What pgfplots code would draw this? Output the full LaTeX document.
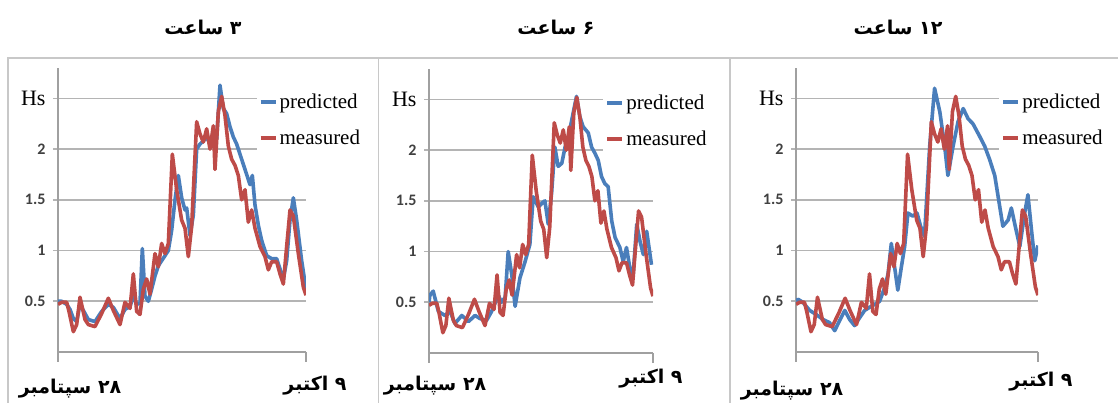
\documentclass[border=0pt]{standalone}
\usepackage{pgfplots}
\usepackage{pgfplotstable}
\pgfplotsset{compat=1.18}
\usepackage{fontspec}
\setmainfont{Liberation Serif}
\newfontfamily\numfont{Carlito}
\newfontfamily\fafont[Script=Arabic]{DejaVu Sans}
\TeXXeTstate=1
\definecolor{pblue}{HTML}{4A7EBB}
\definecolor{mred}{HTML}{BE4B48}
\definecolor{gridgray}{HTML}{B4B4B4}
\definecolor{axgray}{HTML}{A0A0A0}
\definecolor{framegray}{HTML}{C8C8C8}
\definecolor{lblgray}{HTML}{404040}

\pgfplotstableread{
x y
9 0.47
20 0.49
35 0.49
42 0.40
55 0.20
65 0.27
75 0.54
90 0.32
100 0.27
120 0.25
140 0.38
160 0.53
175 0.41
195 0.27
210 0.49
225 0.43
235 0.77
245 0.40
255 0.37
265 0.62
275 0.72
285 0.57
300 0.97
310 0.84
320 1.07
330 0.97
340 1.07
352 1.95
365 1.60
380 1.30
390 1.22
400 0.94
410 1.24
425 2.27
435 2.15
445 2.07
455 2.20
465 2.00
475 2.23
480 1.80
490 2.37
500 2.52
510 2.33
520 2.03
530 1.90
540 1.84
550 1.74
560 1.50
570 1.60
580 1.28
590 1.40
600 1.22
615 1.04
630 0.94
640 0.81
650 0.89
665 0.89
675 0.77
685 0.67
695 1.04
705 1.40
715 1.34
730 0.97
745 0.64
753 0.56
}\measured

\pgfplotstableread{
x y
9 0.50
20 0.50
35 0.47
45 0.42
55 0.33
65 0.30
75 0.47
90 0.38
100 0.32
120 0.30
140 0.40
160 0.47
175 0.44
195 0.33
210 0.42
225 0.45
235 0.55
245 0.47
255 0.48
262 1.02
270 0.55
280 0.50
290 0.62
300 0.75
310 0.85
320 0.90
330 0.95
340 1.00
350 1.20
360 1.50
370 1.74
380 1.52
390 1.40
395 1.42
405 1.15
415 1.35
425 2.00
435 2.05
445 2.08
455 2.12
465 2.05
475 2.15
485 2.10
495 2.63
505 2.40
515 2.35
525 2.22
535 2.12
545 2.05
555 1.95
565 1.85
575 1.75
585 1.65
592 1.74
600 1.45
610 1.25
620 1.10
635 0.95
650 0.92
665 0.92
675 0.82
685 0.72
695 0.90
705 1.30
715 1.52
725 1.30
740 0.90
753 0.62
}\predA

\pgfplotstableread{
x y
9 0.50
12 0.57
23 0.61
40 0.41
62 0.37
79 0.41
95 0.29
118 0.37
140 0.31
162 0.37
178 0.34
200 0.32
217 0.41
239 0.57
250 0.50
262 0.55
272 1.00
284 0.77
295 0.46
311 0.74
328 0.90
344 1.07
355 1.54
372 1.44
389 1.49
394 1.50
405 1.27
416 1.57
427 2.03
438 1.84
450 1.87
461 2.03
472 2.13
488 2.37
499 2.53
510 2.33
521 2.23
538 2.17
549 2.03
560 1.97
571 1.90
582 1.74
593 1.67
604 1.64
616 1.30
627 1.14
643 1.04
654 0.90
665 1.04
676 0.84
687 0.77
699 1.27
710 1.10
721 0.97
732 1.20
748 0.87
}\predB

\pgfplotstableread{
x y
9 0.50
15 0.52
30 0.49
51 0.41
71 0.37
92 0.32
112 0.29
128 0.21
143 0.31
159 0.41
174 0.32
189 0.26
205 0.34
220 0.41
235 0.44
251 0.47
266 0.50
282 0.64
292 0.77
302 1.07
312 0.84
322 0.61
333 0.84
343 1.04
353 1.37
368 1.34
381 1.37
392 1.24
404 1.14
420 2.03
435 2.60
451 2.37
466 2.03
476 1.74
492 2.03
507 2.27
523 2.40
538 2.30
553 2.25
573 2.13
589 2.03
604 1.90
620 1.74
630 1.54
645 1.24
661 1.30
671 1.42
681 1.27
697 1.04
712 1.37
722 1.55
733 1.20
743 0.90
753 1.05
}\predC

\pgfplotsset{
 panel/.style={
  scale only axis, height=284pt,
  xmin=9, xmax=753, ymin=0, ymax=2.8,
  axis x line=bottom, axis y line=left,
  axis line style={-, axgray, line width=1.8pt},
  xtick={9,753}, xticklabels={},
  ytick={0.5,1,1.5,2,2.5},
  yticklabels={{\numfont\bfseries 0.5},{\numfont\bfseries 1},{\numfont\bfseries 1.5},{\numfont\bfseries 2},{\color{black}\fontsize{22}{22}\selectfont Hs}},
  yticklabel style={font=\fontsize{16}{16}\selectfont, text=lblgray, xshift=-4pt},
  tick align=outside,
  major tick length=5pt,
  xtick style={axgray, line width=1.8pt, /pgfplots/major tick length=10pt},
  ytick style={gridgray, line width=1.6pt},
  ymajorgrids, grid style={gridgray, line width=1.6pt},
  legend style={draw=none, fill=white, font=\fontsize{21}{21}\selectfont, row sep=16pt, inner sep=2pt, anchor=north west},
  legend cell align=left,
  legend image code/.code={\draw[#1, line width=4pt] (0pt,0pt) -- (15pt,0pt);},
 }
}

\begin{document}
\begin{tikzpicture}
\useasboundingbox (0pt,0pt) rectangle (1118pt,403pt);
% frames
\draw[framegray, line width=1.4pt] (8pt,-5pt) -- (8pt,345pt) -- (1125pt,345pt);
\draw[framegray, line width=1.4pt] (378.5pt,-5pt) -- (378.5pt,345pt);
\draw[framegray, line width=1.4pt] (730pt,-5pt) -- (730pt,345pt);

% panel 1
\begin{axis}[panel, width=248pt, at={(58pt,51pt)}, anchor=south west,
  legend style={at={(0.80,0.925)}}]
\addplot[pblue, line width=3.6pt, line join=round] table {\predA};
\addplot[mred, line width=3.6pt, line join=round] table {\measured};
\legend{predicted, measured}
\end{axis}

% panel 2
\begin{axis}[panel, width=224pt, at={(429pt,50pt)}, anchor=south west,
  legend style={at={(0.777,0.925)}}]
\addplot[pblue, line width=3.6pt, line join=round] table {\predB};
\addplot[mred, line width=3.6pt, line join=round] table {\measured};
\legend{predicted, measured}
\end{axis}

% panel 3
\begin{axis}[panel, width=242pt, at={(796pt,51pt)}, anchor=south west,
  legend style={at={(0.839,0.925)}}]
\addplot[pblue, line width=3.6pt, line join=round] table {\predC};
\addplot[mred, line width=3.6pt, line join=round] table {\measured};
\legend{predicted, measured}
\end{axis}

% titles
\begin{scope}[every node/.style={font=\fafont\bfseries\fontsize{19}{19}\selectfont}]
\node at (203pt,376pt) {\beginR ۳ ساعت\endR};
\node at (556pt,376pt) {\beginR ۶ ساعت\endR};
\node at (898pt,376pt) {\beginR ۱۲ ساعت\endR};
\node at (70pt,14pt) {\beginR ۲۸ سپتامبر\endR};
\node at (315pt,17pt) {\beginR ۹ اکتبر\endR};
\node at (435pt,17pt) {\beginR ۲۸ سپتامبر\endR};
\node at (651pt,24pt) {\beginR ۹ اکتبر\endR};
\node at (792pt,12pt) {\beginR ۲۸ سپتامبر\endR};
\node at (1041pt,21pt) {\beginR ۹ اکتبر\endR};
\end{scope}
\end{tikzpicture}
\end{document}
